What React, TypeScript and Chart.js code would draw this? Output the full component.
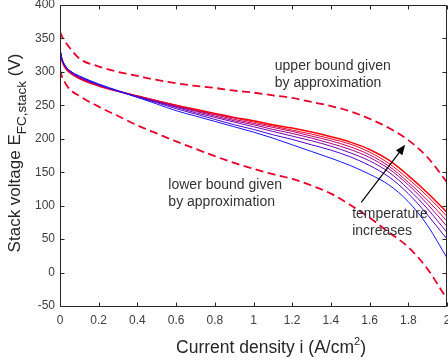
import React, { useEffect, useRef } from "react";
import { Chart, registerables } from "chart.js";

Chart.register(...registerables);

// ---------- data ----------
const CURRENT = [0, 0.01, 0.03, 0.05, 0.1, 0.2, 0.3, 0.4, 0.5, 0.6, 0.7, 0.8, 0.9, 1.0, 1.1, 1.2, 1.3, 1.4, 1.5, 1.6, 1.7, 1.8, 1.9, 2.0];

// lowest temperature (blue) to highest temperature (red)
const V_T1 = [333, 320, 308, 302, 294, 282, 272, 262, 252, 242, 234, 226, 218, 210, 201, 191, 181, 171, 160, 147, 131, 106, 70, 22];
const V_T2 = [333, 320, 308, 302, 293, 281, 271, 262, 254, 245, 237, 229, 221, 214, 206, 199, 191, 183, 173, 160, 143, 118, 86, 50];
const V_T3 = [333, 319, 307, 301, 292, 281, 271, 263, 255, 247, 239, 232, 225, 218, 211, 204, 197, 189, 179, 167, 150, 125, 95, 60];
const V_T4 = [333, 319, 307, 301, 292, 280, 271, 263, 256, 248, 241, 234, 227, 221, 214, 208, 201, 193, 184, 172, 155, 131, 102, 69];
const V_T5 = [333, 318, 306, 300, 291, 280, 271, 264, 256, 249, 242, 236, 229, 223, 217, 211, 204, 197, 188, 176, 159, 135, 108, 77];
const V_T6 = [333, 318, 306, 300, 290, 279, 271, 264, 257, 250, 243, 237, 231, 225, 219, 213, 207, 200, 192, 180, 163, 140, 114, 84];
const V_T7 = [333, 317, 305, 299, 290, 279, 271, 264, 257, 250, 244, 238, 232, 227, 221, 216, 210, 203, 195, 184, 168, 145, 119, 90];

const UPPER_BOUND = [360, 353, 344, 336, 320, 308, 300, 294, 288, 283, 279, 276, 272, 269, 265, 261, 255, 249, 241, 230, 216, 198, 172, 135];
const LOWER_BOUND = [303, 293, 282, 274, 264, 248, 234, 220, 208, 196, 185, 174, 164, 155, 147, 140, 130, 118, 101, 82, 60, 38, 5, -40];

const TEMP_SERIES = [V_T1, V_T2, V_T3, V_T4, V_T5, V_T6, V_T7];
const TEMP_COLORS = ["rgb(20,20,255)", "rgb(80,0,210)", "rgb(120,0,170)", "rgb(155,0,135)", "rgb(195,0,95)", "rgb(230,0,50)", "rgb(255,0,0)"];
const BOUND_COLOR = "rgb(230,0,40)";

const X_TICKS = [0, 0.2, 0.4, 0.6, 0.8, 1, 1.2, 1.4, 1.6, 1.8, 2];
const Y_TICKS = [-50, 0, 50, 100, 150, 200, 250, 300, 350, 400];

// annotation texts with anchor positions in data units
const UPPER_NOTE = ["upper bound given", "by approximation"];
const UPPER_NOTE_AT = [1.11, 308];
const LOWER_NOTE = ["lower bound given", "by approximation"];
const LOWER_NOTE_AT = [0.56, 130];
const TEMP_NOTE = ["temperature", "increases"];
const TEMP_NOTE_AT = [1.51, 87];
const ARROW_FROM = [1.557, 105];
const ARROW_TO = [1.784, 191];

const FONT = "'Liberation Sans', Arial, Helvetica, sans-serif";

const framePlugin = {
  id: "frame",
  afterDatasetsDraw(chart: any) {
    const { ctx, chartArea: a, scales } = chart;
    const xs = scales.x;
    const ys = scales.y;
    ctx.save();

    // annotations
    ctx.fillStyle = "#333333";
    ctx.font = `14px ${FONT}`;
    ctx.textAlign = "left";
    ctx.textBaseline = "middle";
    const lineH = 17;
    const drawNote = (lines: string[], at: number[]) => {
      const x = xs.getPixelForValue(at[0]);
      const y = ys.getPixelForValue(at[1]);
      lines.forEach((t, k) => ctx.fillText(t, x, y + k * lineH));
    };
    drawNote(UPPER_NOTE, UPPER_NOTE_AT);
    drawNote(LOWER_NOTE, LOWER_NOTE_AT);
    drawNote(TEMP_NOTE, TEMP_NOTE_AT);

    // arrow
    const x0 = xs.getPixelForValue(ARROW_FROM[0]);
    const y0 = ys.getPixelForValue(ARROW_FROM[1]);
    const x1 = xs.getPixelForValue(ARROW_TO[0]);
    const y1 = ys.getPixelForValue(ARROW_TO[1]);
    const ang = Math.atan2(y1 - y0, x1 - x0);
    const hl = 10, hw = 4;
    ctx.strokeStyle = "#000";
    ctx.lineWidth = 1.2;
    ctx.beginPath();
    ctx.moveTo(x0, y0);
    ctx.lineTo(x1 - Math.cos(ang) * hl * 0.8, y1 - Math.sin(ang) * hl * 0.8);
    ctx.stroke();
    ctx.fillStyle = "#000";
    ctx.beginPath();
    ctx.moveTo(x1, y1);
    ctx.lineTo(x1 - Math.cos(ang) * hl - Math.sin(ang) * hw, y1 - Math.sin(ang) * hl + Math.cos(ang) * hw);
    ctx.lineTo(x1 - Math.cos(ang) * hl + Math.sin(ang) * hw, y1 - Math.sin(ang) * hl - Math.cos(ang) * hw);
    ctx.closePath();
    ctx.fill();

    // box
    ctx.strokeStyle = "#262626";
    ctx.lineWidth = 1;
    const L = Math.round(a.left) + 0.5;
    const R = Math.round(a.right) - 0.5;
    const T = Math.round(a.top) + 0.5;
    const B = Math.round(a.bottom) + 0.5;
    ctx.beginPath();
    ctx.moveTo(L, T);
    ctx.lineTo(R, T);
    ctx.lineTo(R, B);
    ctx.lineTo(L, B);
    ctx.closePath();
    ctx.stroke();

    // inward ticks
    const tl = 4;
    ctx.beginPath();
    X_TICKS.forEach((v) => {
      const px = Math.round(xs.getPixelForValue(v)) + 0.5;
      ctx.moveTo(px, B);
      ctx.lineTo(px, B - tl);
      ctx.moveTo(px, T);
      ctx.lineTo(px, T + tl);
    });
    Y_TICKS.forEach((v) => {
      const py = Math.round(ys.getPixelForValue(v)) + 0.5;
      ctx.moveTo(L, py);
      ctx.lineTo(L + tl, py);
      ctx.moveTo(R, py);
      ctx.lineTo(R - tl, py);
    });
    ctx.stroke();

    // x title
    ctx.fillStyle = "#262626";
    ctx.textBaseline = "alphabetic";
    ctx.textAlign = "left";
    const xMain = "Current density i (A/cm";
    const xSup = "2";
    const xEnd = ")";
    ctx.font = `17.5px ${FONT}`;
    const w1 = ctx.measureText(xMain).width;
    const w3 = ctx.measureText(xEnd).width;
    ctx.font = `11px ${FONT}`;
    const w2 = ctx.measureText(xSup).width;
    const cx = 271;
    let sx = cx - (w1 + w2 + w3) / 2;
    const by = 353;
    ctx.font = `17.5px ${FONT}`;
    ctx.fillText(xMain, sx, by);
    sx += w1;
    ctx.font = `11px ${FONT}`;
    ctx.fillText(xSup, sx, by - 8);
    sx += w2;
    ctx.font = `17.5px ${FONT}`;
    ctx.fillText(xEnd, sx, by);

    // y title (rotated, with subscript)
    ctx.save();
    ctx.translate(20, 153);
    ctx.rotate(-Math.PI / 2);
    const yMain = "Stack voltage E";
    const ySub = "FC,stack";
    const yEnd = " (V)";
    ctx.font = `17px ${FONT}`;
    const v1 = ctx.measureText(yMain).width;
    const v3 = ctx.measureText(yEnd).width;
    ctx.font = `13.5px ${FONT}`;
    const v2 = ctx.measureText(ySub).width;
    let ty = -(v1 + v2 + v3) / 2;
    ctx.font = `17px ${FONT}`;
    ctx.fillText(yMain, ty, 0);
    ty += v1;
    ctx.font = `13.5px ${FONT}`;
    ctx.fillText(ySub, ty, 6);
    ty += v2;
    ctx.font = `17px ${FONT}`;
    ctx.fillText(yEnd, ty, 0);
    ctx.restore();

    ctx.restore();
  },
};

function fmt(v: number): string {
  return String(Number(v.toFixed(1)));
}

export default function App() {
  const canvasRef = useRef<HTMLCanvasElement | null>(null);

  useEffect(() => {
    const canvas = canvasRef.current;
    if (!canvas) return;
    Chart.defaults.font.family = FONT;

    const tempSets = TEMP_SERIES.map((series, k) => ({
      label: `T${k + 1}`,
      data: CURRENT.map((x, j) => ({ x, y: series[j] })),
      borderColor: TEMP_COLORS[k],
      borderWidth: k === TEMP_SERIES.length - 1 ? 1.5 : 1,
      pointRadius: 0,
      fill: false,
      cubicInterpolationMode: "monotone" as const,
    }));

    const boundSet = (label: string, series: number[]) => ({
      label,
      data: CURRENT.map((x, j) => ({ x, y: series[j] })),
      borderColor: BOUND_COLOR,
      borderWidth: 1.8,
      borderDash: [8, 4.5],
      pointRadius: 0,
      fill: false,
      cubicInterpolationMode: "monotone" as const,
    });

    const chart = new Chart(canvas, {
      type: "line",
      data: {
        datasets: [...tempSets, boundSet("upper", UPPER_BOUND), boundSet("lower", LOWER_BOUND)],
      },
      options: {
        animation: false,
        responsive: false,
        maintainAspectRatio: false,
        devicePixelRatio: 1,
        layout: { padding: { top: 5, right: 1, left: 0, bottom: 0 } },
        plugins: {
          legend: { display: false },
          tooltip: { enabled: false },
          title: { display: false },
        },
        scales: {
          x: {
            type: "linear",
            min: 0,
            max: 2,
            grid: { display: false, drawTicks: false },
            border: { display: false },
            ticks: {
              color: "#404040",
              font: { size: 12, family: FONT },
              padding: 7,
              maxRotation: 0,
              autoSkip: false,
              callback: (v: any) => fmt(Number(v)),
            },
            afterBuildTicks: (s: any) => {
              s.ticks = X_TICKS.map((value) => ({ value }));
            },
            afterFit: (s: any) => {
              s.height = 54;
              s.paddingLeft = 0;
              s.paddingRight = 0;
            },
          },
          y: {
            type: "linear",
            min: -50,
            max: 400,
            grid: { display: false, drawTicks: false },
            border: { display: false },
            ticks: {
              color: "#404040",
              font: { size: 12, family: FONT },
              padding: 5,
              autoSkip: false,
              callback: (v: any) => String(v),
            },
            afterBuildTicks: (s: any) => {
              s.ticks = Y_TICKS.map((value) => ({ value }));
            },
            afterFit: (s: any) => {
              s.width = 60;
              s.paddingTop = 0;
              s.paddingBottom = 0;
            },
          },
        },
      },
      plugins: [framePlugin],
    });

    return () => chart.destroy();
  }, []);

  return (
    <div style={{ position: "absolute", left: 0, top: 0, width: 448, height: 360, background: "#fff" }}>
      <canvas ref={canvasRef} width={448} height={360} style={{ width: 448, height: 360, display: "block" }} />
    </div>
  );
}
